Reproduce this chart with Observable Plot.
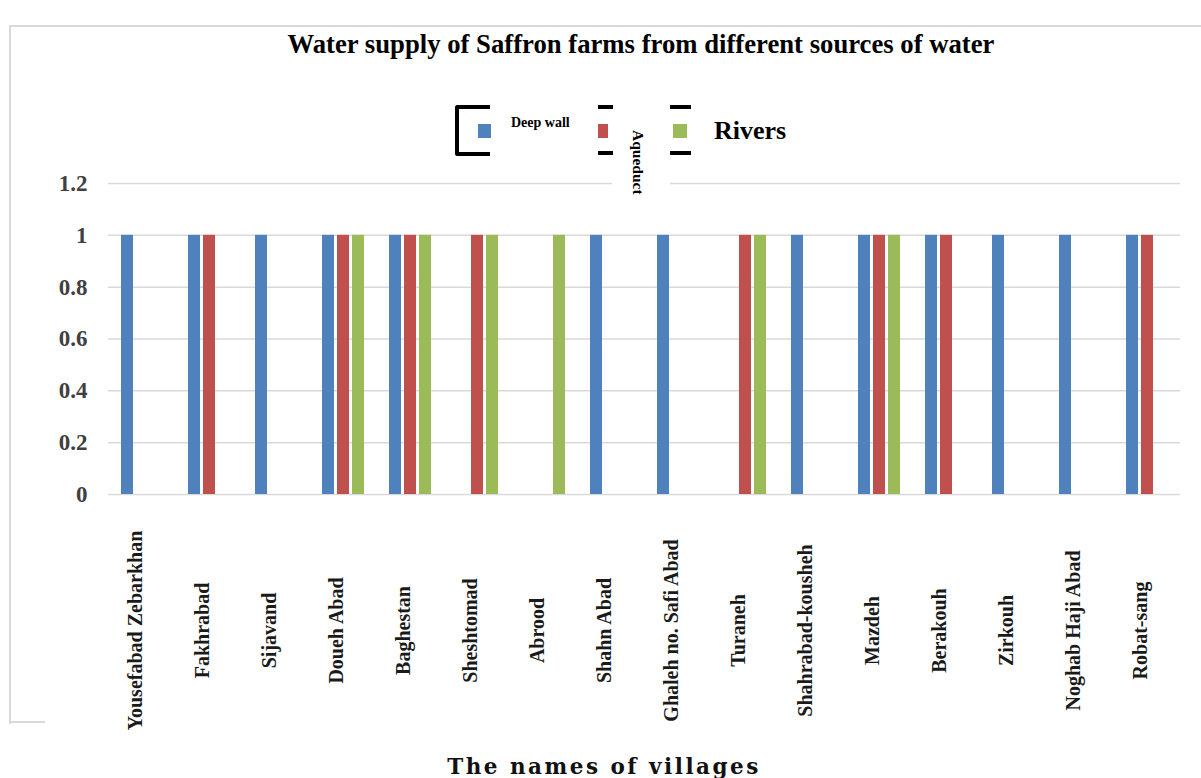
<!DOCTYPE html>
<html>
<head>
<meta charset="utf-8">
<script src="https://cdn.jsdelivr.net/npm/d3@7"></script>
<script src="https://cdn.jsdelivr.net/npm/@observablehq/plot@0.6"></script>
<style>
  html, body { margin: 0; padding: 0; background: #fff; }
  #wrap { position: relative; width: 1201px; height: 778px; overflow: hidden; font-family: "Liberation Serif", serif; }
  #chart { position: absolute; left: 0; top: 0; }
  .abs { position: absolute; }
</style>
</head>
<body>
<div id="wrap">
  <div class="abs" style="left:9px;top:25px;width:1200px;height:697px;border-left:2px solid #d9d9d9;border-top:2px solid #d9d9d9;"></div>
  <div class="abs" style="left:9px;top:721px;width:36px;height:2px;background:#d9d9d9;"></div>
  <div id="chart"></div>
  <div class="abs" style="left:141px;top:29px;width:1000px;text-align:center;font-size:26.7px;font-weight:bold;line-height:30px;color:#000;">Water supply of Saffron farms from different sources of water</div>
  <!-- legend -->
  <div class="abs" style="left:455px;top:105px;width:31px;height:43px;border-left:4px solid #000;border-top:4px solid #000;border-bottom:4px solid #000;border-radius:3px 0 0 3px;"></div>
  <div id="sw0" class="abs" style="left:478px;top:124px;width:13px;height:14px;"></div>
  <div class="abs" style="left:511px;top:115px;font-size:14px;font-weight:bold;line-height:16px;">Deep wall</div>
  <div class="abs" style="left:598px;top:105px;width:15px;height:4px;background:#000;"></div>
  <div class="abs" style="left:598px;top:151px;width:15px;height:4px;background:#000;"></div>
  <div id="sw1" class="abs" style="left:598px;top:124px;width:10px;height:14px;"></div>
  <div class="abs" style="left:612px;top:160px;width:58px;height:40px;background:#fff;"></div>
  <div class="abs" style="left:629px;top:130px;writing-mode:vertical-rl;font-size:15.5px;font-weight:bold;line-height:19px;">Aqueduct</div>
  <div class="abs" style="left:670px;top:105px;width:21px;height:4px;background:#000;"></div>
  <div class="abs" style="left:670px;top:151px;width:21px;height:4px;background:#000;"></div>
  <div id="sw2" class="abs" style="left:673px;top:124px;width:14px;height:14px;"></div>
  <div class="abs" style="left:714px;top:116px;font-size:26px;font-weight:bold;line-height:30px;">Rivers</div>
  <div class="abs" style="left:404px;top:754px;width:400px;text-align:center;font-family:'DejaVu Serif',serif;font-size:21.5px;font-weight:bold;letter-spacing:2.5px;line-height:26px;color:#111;">The names of villages</div>
</div>
<script>
const villages = ["Yousefabad Zebarkhan","Fakhrabad","Sijavand","Doueh Abad","Baghestan","Sheshtomad","Abrood","Shahn Abad","Ghaleh no. Safi Abad","Turaneh","Shahrabad-kousheh","Mazdeh","Berakouh","Zirkouh","Noghab Haji Abad","Robat-sang"];
const sources = ["Deep wall","Aqueduct","Rivers"];
const deepWall = [1,1,1,1,1,0,0,1,1,0,1,1,1,1,1,1];
const aqueduct = [0,1,0,1,1,1,0,0,0,1,0,1,1,0,0,1];
const rivers   = [0,0,0,1,1,1,1,0,0,1,0,1,0,0,0,0];
const colors = ["#4f81bd","#c0504d","#9bbb59"];
const yTicks = [0,0.2,0.4,0.6,0.8,1,1.2];

colors.forEach((c,i) => document.getElementById("sw"+i).style.background = c);

const series = [deepWall, aqueduct, rivers];
const data = [];
villages.forEach((v,i) => sources.forEach((s,j) => {
  if (series[j][i] > 0) data.push({village: v, source: s, value: series[j][i]});
}));

const chart = Plot.plot({
  width: 1201,
  height: 740,
  marginLeft: 105,
  marginRight: 18,
  marginTop: 183,
  marginBottom: 246,
  style: {fontFamily: "'Liberation Serif', serif", background: "transparent", overflow: "visible"},
  fx: {domain: villages, padding: 0, axis: null, label: null},
  x: {domain: sources, paddingInner: 0.2, paddingOuter: 0.75, axis: null, label: null},
  y: {domain: [0, 1.2], label: null},
  color: {domain: sources, range: colors},
  marks: [
    Plot.gridY(yTicks, {stroke: "#d9d9d9", strokeOpacity: 1, strokeWidth: 1.5}),
    Plot.axisY(yTicks, {tickSize: 0, tickPadding: 21, fontSize: 23, fontWeight: "bold", fill: "#404040", tickFormat: d => String(d), label: null}),
    Plot.barY(data, {fx: "village", x: "source", y: "value", fill: "source"}),
    Plot.text(villages, {fx: d => d, text: d => d, frameAnchor: "bottom", rotate: -90, dy: 136, textAnchor: "middle", fontSize: 20, fontWeight: "bold", fill: "#1a1a1a"})
  ]
});
document.getElementById("chart").appendChild(chart);
</script>
</body>
</html>
